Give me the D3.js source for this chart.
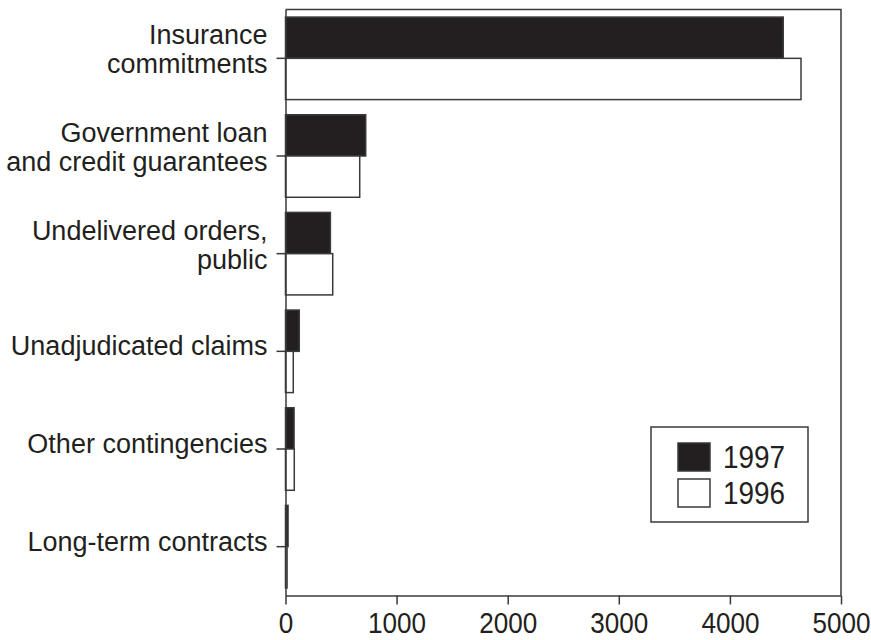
<!DOCTYPE html>
<html>
<head>
<meta charset="utf-8">
<script src="https://cdn.jsdelivr.net/npm/d3@7"></script>
<style>
  body { margin: 0; background: #fff; }
  svg text { font-family: "Liberation Sans", Arial, sans-serif; fill: #231f20; }
</style>
</head>
<body>
<svg id="chart" width="871" height="640"></svg>
<script>
// categories, top to bottom ("\n" breaks the label into lines)
const categories = [
  "Insurance\ncommitments",
  "Government loan\nand credit guarantees",
  "Undelivered orders,\npublic",
  "Unadjudicated claims",
  "Other contingencies",
  "Long-term contracts"
];
const years = ["1997", "1996"];
// values
const values1997 = [4480, 722, 404, 124, 77, 23];
const values1996 = [4640, 668, 425, 70, 79, 14];
const xticks = [0, 1000, 2000, 3000, 4000, 5000];

const svg = d3.select("#chart");
const ink = "#231f20";
const line = "#3a3a3a";

// plot area
const plotLeft = 285.5, plotRight = 841, plotTop = 9.5, plotBottom = 595.5;

const x = d3.scaleLinear().domain([0, 5000]).range([plotLeft, plotRight]);
const y0 = d3.scaleBand()
  .domain(categories)
  .range([plotTop, plotBottom])
  .paddingInner(0.155)
  .paddingOuter(0.0775);
const y1 = d3.scaleBand().domain(years).range([0, y0.bandwidth()]);
const fills = { "1997": ink, "1996": "#ffffff" };

// build rows from the arrays
const rows = categories.map((c, i) => ({
  cat: c,
  vals: [
    { year: "1997", v: values1997[i] },
    { year: "1996", v: values1996[i] }
  ]
}));

// frame (top and right edges)
svg.append("path")
  .attr("d", `M${plotLeft},${plotTop}H${plotRight}V${plotBottom}`)
  .attr("fill", "none")
  .attr("stroke", line)
  .attr("stroke-width", 1.5);

// bars
const groups = svg.append("g")
  .selectAll("g")
  .data(rows)
  .join("g")
  .attr("transform", d => `translate(0,${y0(d.cat)})`);

groups.selectAll("rect")
  .data(d => d.vals)
  .join("rect")
  .attr("x", x(0))
  .attr("y", d => y1(d.year))
  .attr("width", d => x(d.v) - x(0))
  .attr("height", y1.bandwidth())
  .attr("fill", d => fills[d.year])
  .attr("stroke", line)
  .attr("stroke-width", 1.5);

// x axis (digits in the original are a bit narrow, so squeeze them)
const xaxis = svg.append("g")
  .attr("transform", `translate(0,${plotBottom})`)
  .call(d3.axisBottom(x).tickValues(xticks).tickFormat(d3.format("d")).tickSize(9).tickSizeOuter(0));
xaxis.attr("font-family", null);
xaxis.select(".domain").attr("stroke", line).attr("stroke-width", 1.5);
xaxis.selectAll(".tick line").attr("stroke", line).attr("stroke-width", 1.5);
xaxis.selectAll(".tick text")
  .attr("font-size", 29)
  .attr("fill", ink)
  .attr("y", 0)
  .attr("dy", null)
  .attr("transform", "translate(0,37.5) scale(0.9,1)");

// y axis with multi-line labels
const yaxis = svg.append("g")
  .attr("transform", `translate(${plotLeft},0)`)
  .call(d3.axisLeft(y0).tickSize(9).tickSizeOuter(0).tickFormat(""));
yaxis.attr("font-family", null);
yaxis.select(".domain").attr("stroke", line).attr("stroke-width", 1.5);
yaxis.selectAll(".tick line").attr("stroke", line).attr("stroke-width", 1.5);
yaxis.selectAll(".tick text").remove();
yaxis.selectAll(".tick").each(function (d) {
  const parts = d.split("\n");
  const t = d3.select(this).append("text")
    .attr("text-anchor", "end")
    .attr("font-size", 27)
    .attr("fill", ink);
  if (parts.length === 1) {
    t.append("tspan").attr("x", -18).attr("y", 4).text(parts[0]);
  } else {
    t.append("tspan").attr("x", -18).attr("y", -14).text(parts[0]);
    t.append("tspan").attr("x", -18).attr("y", 15).text(parts[1]);
  }
});

// legend
const legend = svg.append("g").attr("transform", "translate(651,427)");
legend.append("rect")
  .attr("width", 157)
  .attr("height", 95)
  .attr("fill", "#fff")
  .attr("stroke", line)
  .attr("stroke-width", 1.5);
const items = legend.selectAll("g")
  .data(years)
  .join("g")
  .attr("transform", (d, i) => `translate(27,${16 + i * 36})`);
items.append("rect")
  .attr("width", 32)
  .attr("height", 28)
  .attr("fill", d => fills[d])
  .attr("stroke", line)
  .attr("stroke-width", 1.5);
items.append("text")
  .attr("transform", "translate(45,25) scale(0.9,1)")
  .attr("font-size", 31)
  .attr("fill", ink)
  .text(d => d);
</script>
</body>
</html>
